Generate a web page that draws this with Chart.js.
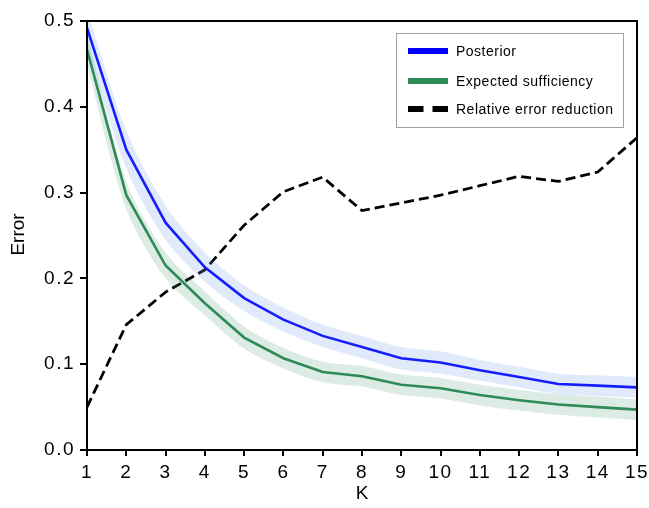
<!DOCTYPE html>
<html>
<head>
<meta charset="utf-8">
<script src="https://cdn.jsdelivr.net/npm/chart.js@4.4.1/dist/chart.umd.min.js"></script>
<style>
  html, body { margin: 0; padding: 0; background: #fff; }
  #wrap { width: 649px; height: 508px; }
</style>
</head>
<body>
<div id="wrap"><canvas id="chart" width="649" height="508"></canvas></div>
<script>
// values
const K = [1, 2, 3, 4, 5, 6, 7, 8, 9, 10, 11, 12, 13, 14, 15];
const posterior = [0.492, 0.350, 0.265, 0.213, 0.177, 0.152, 0.133, 0.120, 0.107, 0.102, 0.093, 0.085, 0.077, 0.075, 0.073];
const posteriorSpread = [0.020, 0.022, 0.020, 0.017, 0.015, 0.014, 0.013, 0.013, 0.013, 0.013, 0.012, 0.012, 0.012, 0.012, 0.012];
const sufficiency = [0.467, 0.297, 0.215, 0.171, 0.131, 0.107, 0.091, 0.086, 0.076, 0.072, 0.064, 0.058, 0.053, 0.050, 0.047];
const sufficiencySpread = [0.018, 0.016, 0.015, 0.014, 0.013, 0.012, 0.012, 0.012, 0.012, 0.012, 0.012, 0.012, 0.012, 0.012, 0.012];
const reduction = [0.050, 0.146, 0.184, 0.210, 0.262, 0.301, 0.318, 0.279, 0.288, 0.297, 0.308, 0.319, 0.313, 0.324, 0.364];
const yTicks = [0.0, 0.1, 0.2, 0.3, 0.4, 0.5];

const BLUE = '#0000ff';
const GREEN = '#2e8b57';
const FONT = '"Liberation Sans", Arial, sans-serif';

const pts = arr => arr.map((v, i) => ({ x: K[i], y: v }));
const band = (arr, spread, sign) => arr.map((v, i) => ({ x: K[i], y: v + sign * spread[i] }));

const legendItems = [
    { text: 'Posterior', color: BLUE, dash: [] },
    { text: 'Expected sufficiency', color: GREEN, dash: [] },
    { text: 'Relative error reduction', color: '#000', dash: [15.5, 9] }
];

// frame, axis titles and legend box drawn by hand
const framePlugin = {
    id: 'frame',
    beforeDraw(chart) {
        chart.ctx.letterSpacing = '1.5px';
    },
    afterDraw(chart) {
        const { ctx, chartArea: a } = chart;
        ctx.save();
        ctx.letterSpacing = '0px';
        ctx.strokeStyle = '#000';
        ctx.lineWidth = 2;
        ctx.strokeRect(a.left, a.top, a.right - a.left, a.bottom - a.top);

        // axis titles
        ctx.fillStyle = '#000';
        ctx.font = '19px ' + FONT;
        ctx.textAlign = 'center';
        ctx.textBaseline = 'middle';
        ctx.fillText('K', (a.left + a.right) / 2, 494);
        ctx.save();
        ctx.translate(19, (a.top + a.bottom) / 2 - 1);
        ctx.rotate(-Math.PI / 2);
        ctx.fillText('Error', 0, 0);
        ctx.restore();

        // legend
        const bx = 396.5, by = 33.5, bw = 227, bh = 94;
        ctx.fillStyle = '#fff';
        ctx.fillRect(bx, by, bw, bh);
        ctx.strokeStyle = '#a0a0a0';
        ctx.lineWidth = 1;
        ctx.strokeRect(bx, by, bw, bh);
        ctx.font = '14px ' + FONT;
        ctx.letterSpacing = '0.5px';
        ctx.textAlign = 'left';
        const rows = [51, 81, 109];
        legendItems.forEach((it, i) => {
            ctx.strokeStyle = it.color;
            ctx.lineWidth = 6;
            ctx.lineCap = 'butt';
            ctx.setLineDash(it.dash);
            ctx.beginPath();
            ctx.moveTo(408, rows[i]);
            ctx.lineTo(448, rows[i]);
            ctx.stroke();
            ctx.setLineDash([]);
            ctx.fillStyle = '#000';
            ctx.fillText(it.text, 456, rows[i] + 1);
        });
        ctx.restore();
        ctx.letterSpacing = '0px';
    }
};

const tickFont = { family: FONT, size: 19 };

new Chart(document.getElementById('chart'), {
    type: 'line',
    data: {
        datasets: [
            { data: band(posterior, posteriorSpread, 1), borderWidth: 0, pointRadius: 0, fill: '+1', backgroundColor: 'rgba(100,149,237,0.2)', tension: 0.3 },
            { data: band(posterior, posteriorSpread, -1), borderWidth: 0, pointRadius: 0, fill: false, tension: 0.3 },
            { data: band(sufficiency, sufficiencySpread, 1), borderWidth: 0, pointRadius: 0, fill: '+1', backgroundColor: 'rgba(46,139,87,0.17)', tension: 0.3 },
            { data: band(sufficiency, sufficiencySpread, -1), borderWidth: 0, pointRadius: 0, fill: false, tension: 0.3 },
            { label: 'Posterior', data: pts(posterior), borderColor: BLUE, borderWidth: 2.6, pointRadius: 0, fill: false },
            { label: 'Expected sufficiency', data: pts(sufficiency), borderColor: GREEN, borderWidth: 2.6, pointRadius: 0, fill: false },
            { label: 'Relative error reduction', data: pts(reduction), borderColor: '#000', borderWidth: 2.8, borderDash: [10, 5], pointRadius: 0, fill: false }
        ]
    },
    options: {
        responsive: false,
        animation: false,
        clip: 0,
        layout: { padding: { top: 21, right: 12, left: 0, bottom: 0 } },
        plugins: { legend: { display: false }, tooltip: { enabled: false } },
        scales: {
            x: {
                type: 'linear', min: 1, max: 15,
                ticks: { stepSize: 1, color: '#000', font: tickFont, padding: 5, maxRotation: 0 },
                grid: { drawOnChartArea: false, drawTicks: true, tickLength: 6, color: '#000', lineWidth: 2 },
                border: { display: true, color: '#000', width: 2 },
                afterFit: s => { s.height = 58; s.paddingLeft = 0; s.paddingRight = 0; }
            },
            y: {
                min: 0, max: 0.5,
                afterBuildTicks: s => { s.ticks = yTicks.map(v => ({ value: v })); },
                ticks: { color: '#000', font: tickFont, padding: 5, callback: v => v.toFixed(1) },
                grid: { drawOnChartArea: false, drawTicks: true, tickLength: 7, color: '#000', lineWidth: 2 },
                border: { display: true, color: '#000', width: 2 },
                afterFit: s => { s.width = 87; s.paddingTop = 0; s.paddingBottom = 0; }
            }
        }
    },
    plugins: [framePlugin]
});
</script>
</body>
</html>
